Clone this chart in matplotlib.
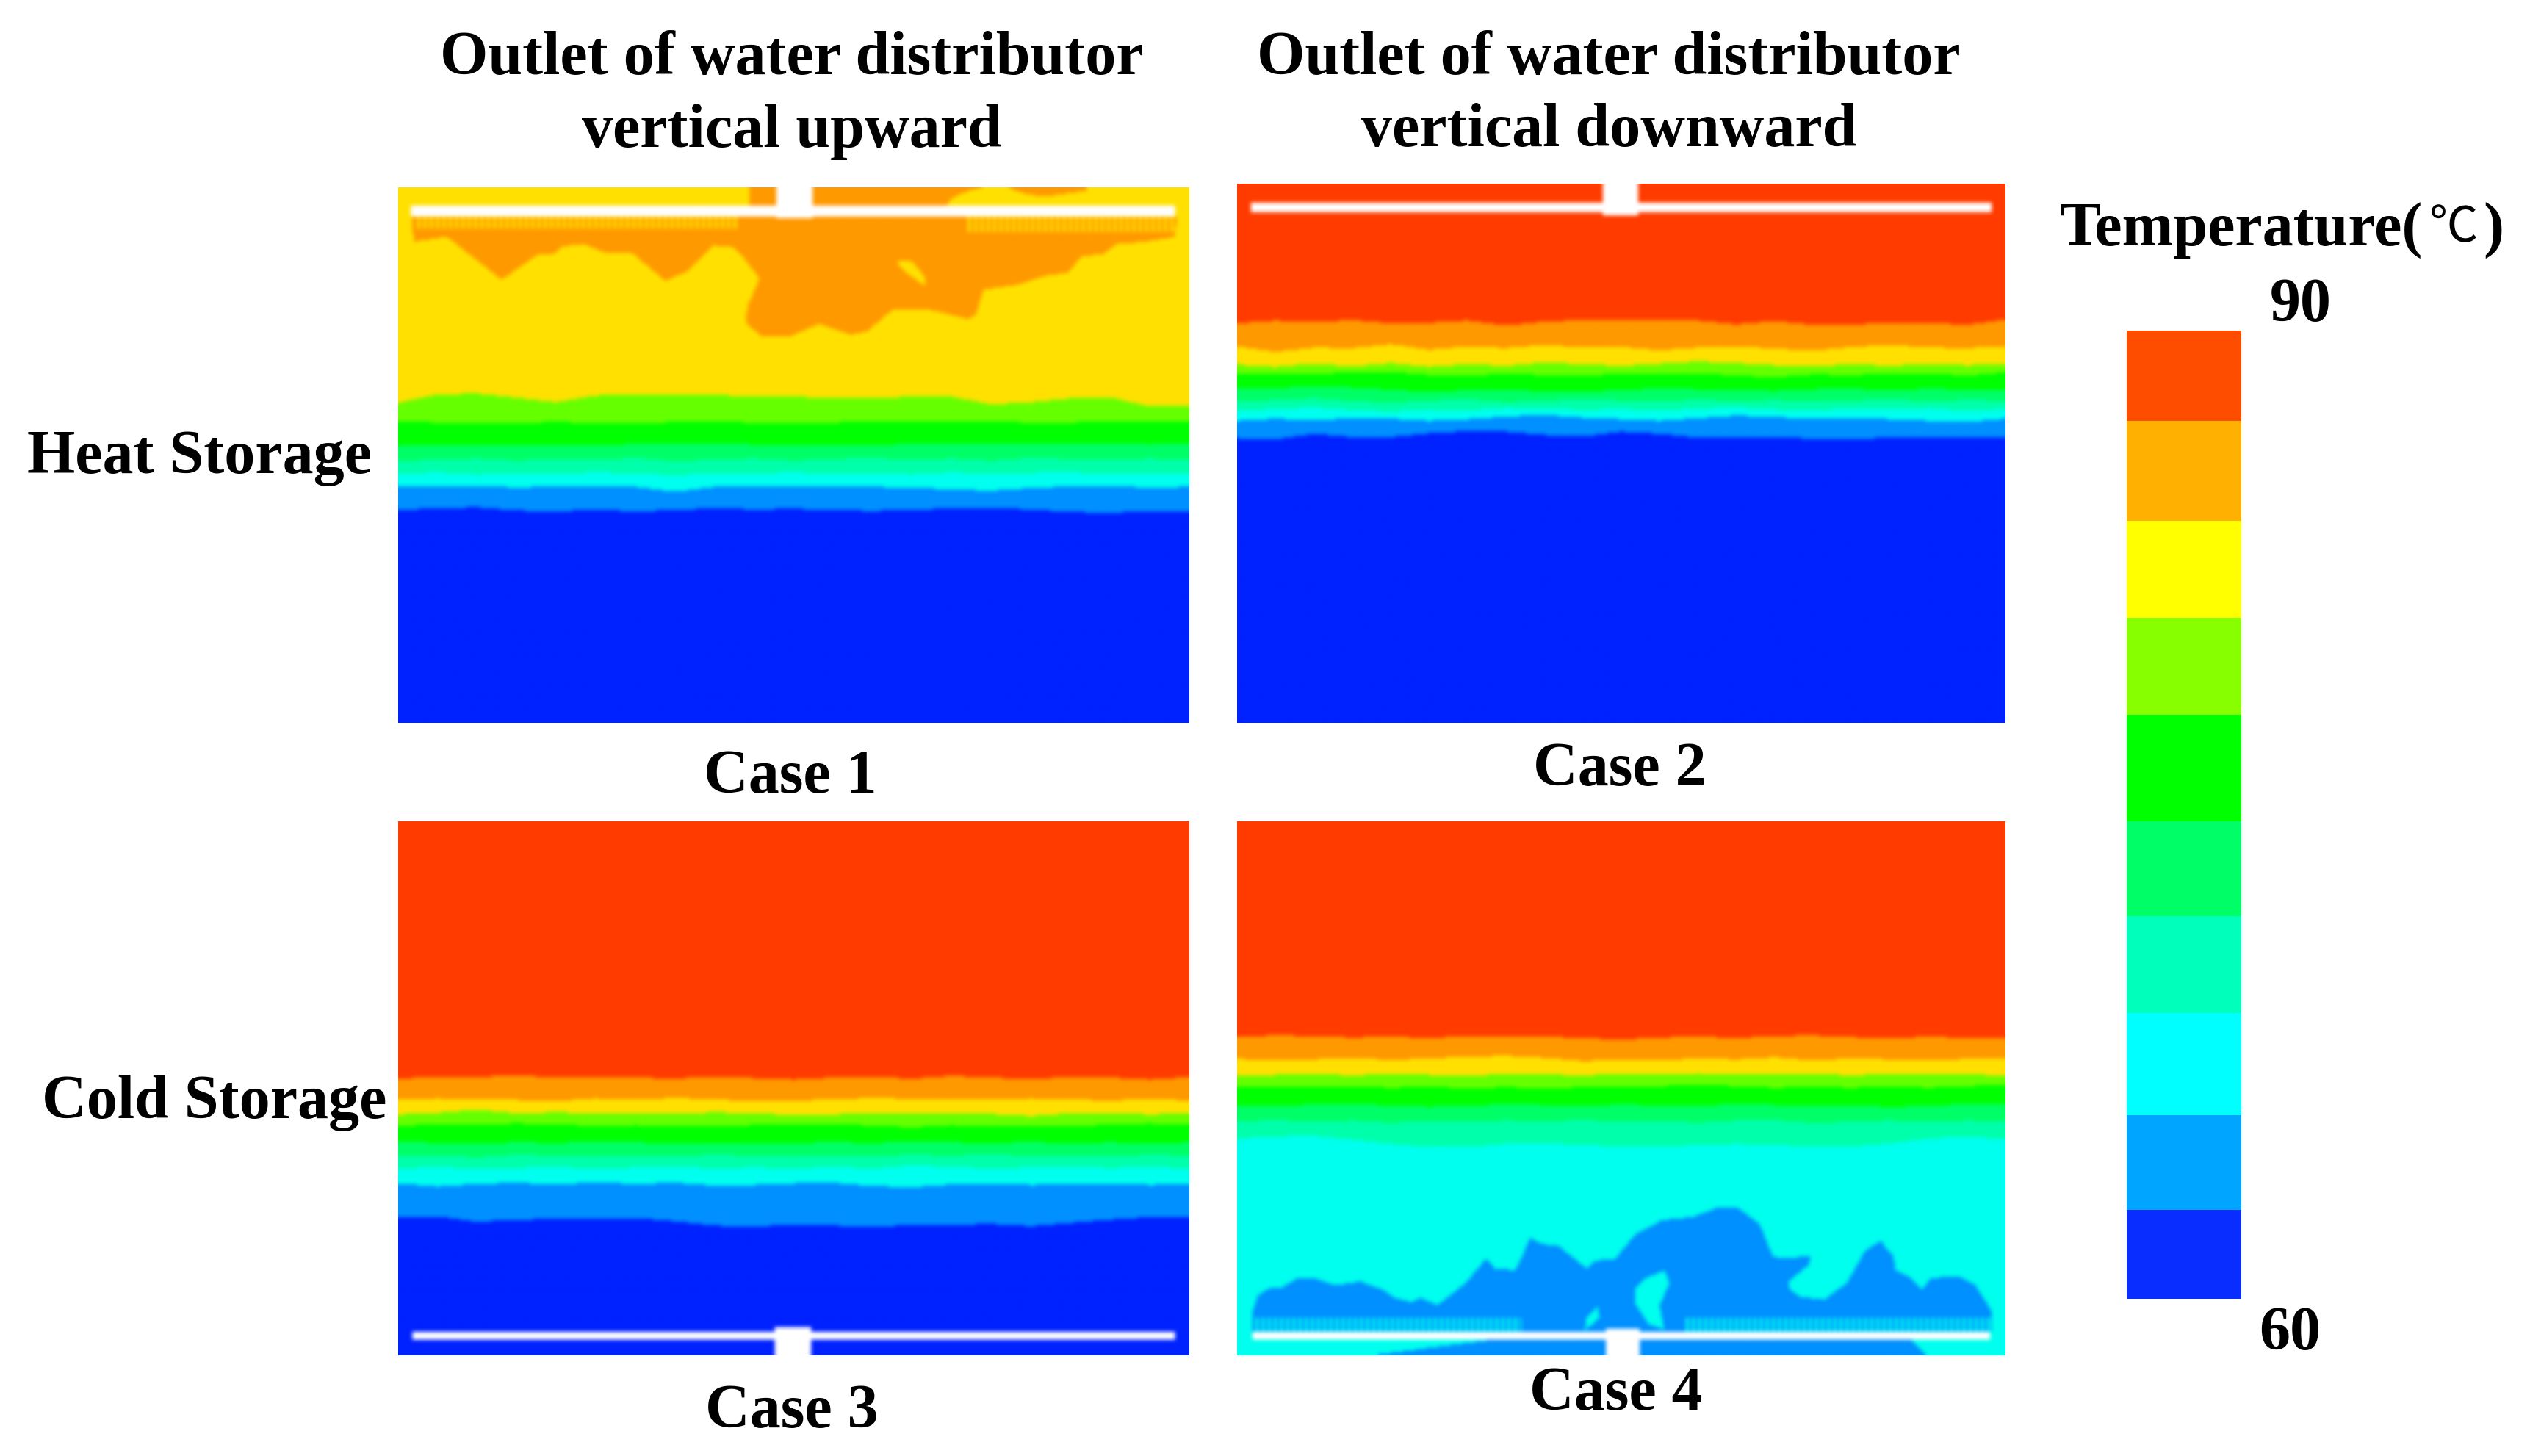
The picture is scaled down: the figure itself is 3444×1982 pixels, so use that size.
import numpy as np
import matplotlib
matplotlib.use('Agg')
import matplotlib.pyplot as plt
from matplotlib.path import Path
from matplotlib.colors import ListedColormap, BoundaryNorm

# stations across the tank, percent of the width
stations = [0, 5, 10, 15, 20, 25, 30, 35, 40, 45, 50, 55, 60, 65, 70, 75, 80, 85, 90, 95, 100]

# contour depths, percent of tank height from the top, one row per boundary
# order: red/orange, orange/yellow, yellow/lime, lime/green, green/spring,
#        spring/aqua, aqua/cyan, cyan/blue, blue/dark
case1_levels = [
    [0] * 21,
    [0] * 21,
    [40.3, 38.8, 38.6, 39.4, 40.2, 39.0, 38.7, 38.9, 38.9, 39.1, 39.2, 39.4, 39.4, 39.2, 39.2, 40.6, 40.2, 39.5, 39.3, 41.0, 40.8],
    [43.8, 44.0, 44.2, 44.1, 43.9, 44.1, 44.2, 43.9, 43.9, 44.0, 44.1, 44.0, 43.8, 43.7, 43.8, 43.9, 44.0, 44.0, 43.8, 43.7, 43.9],
    [48.4, 48.1, 48.2, 48.1, 48.3, 48.3, 48.0, 47.9, 48.0, 48.1, 48.2, 48.3, 48.2, 48.0, 47.8, 47.9, 47.8, 47.8, 47.9, 48.1, 47.9],
    [51.2, 50.9, 50.7, 51.1, 50.8, 51.0, 50.6, 51.2, 50.9, 50.7, 51.1, 50.8, 50.6, 51.0, 50.7, 51.1, 50.6, 50.8, 51.0, 50.7, 51.0],
    [53.6, 53.3, 53.7, 53.4, 53.6, 53.3, 53.5, 53.8, 53.4, 53.5, 53.3, 53.6, 53.4, 53.7, 53.3, 53.6, 53.4, 53.3, 53.6, 53.4, 53.5],
    [56.0, 56.0, 55.8, 56.1, 55.9, 55.8, 56.0, 56.9, 56.0, 55.8, 55.9, 55.8, 56.0, 56.1, 56.5, 56.7, 56.2, 55.9, 55.9, 56.1, 56.0],
    [60.3, 60.0, 59.8, 60.4, 60.6, 60.2, 60.6, 60.3, 60.0, 60.2, 60.1, 60.3, 60.5, 60.2, 60.1, 60.0, 60.2, 60.7, 60.8, 60.6, 60.5],
]
case2_levels = [
    [25.9, 25.4, 25.7, 25.3, 25.9, 25.8, 25.4, 26.3, 25.6, 25.3, 25.4, 25.2, 25.4, 26.1, 25.5, 26.2, 26.1, 25.9, 25.8, 26.2, 25.2],
    [30.2, 31.2, 30.4, 30.5, 29.8, 30.8, 30.2, 30.5, 29.9, 30.4, 30.3, 30.9, 30.4, 30.2, 30.6, 31.0, 30.3, 29.9, 30.4, 30.5, 30.2],
    [33.6, 34.0, 33.4, 33.9, 33.3, 34.0, 33.5, 33.8, 33.2, 33.5, 33.8, 33.4, 33.0, 33.3, 33.7, 33.9, 33.5, 33.8, 33.4, 33.7, 33.5],
    [35.2, 35.4, 35.2, 35.1, 34.9, 35.5, 35.6, 35.3, 35.5, 35.6, 35.3, 35.4, 35.2, 35.6, 35.9, 35.4, 35.5, 35.3, 35.2, 35.6, 35.0],
    [38.0, 37.9, 37.6, 37.8, 38.2, 38.6, 38.3, 38.2, 38.5, 38.6, 38.2, 38.0, 38.1, 38.3, 38.4, 38.1, 38.0, 38.3, 38.0, 38.2, 38.1],
    [40.4, 40.1, 39.8, 40.3, 40.6, 40.2, 40.0, 40.5, 40.3, 39.9, 40.2, 40.4, 40.0, 40.3, 40.1, 40.4, 40.2, 40.0, 40.3, 40.1, 40.2],
    [42.2, 41.8, 41.5, 42.0, 42.3, 41.9, 42.1, 41.6, 41.7, 42.0, 41.8, 42.2, 41.7, 41.5, 41.9, 42.1, 41.7, 41.9, 41.6, 42.2, 41.8],
    [44.0, 43.6, 43.9, 43.5, 43.6, 44.0, 43.7, 43.2, 42.9, 43.4, 43.7, 44.0, 43.5, 43.0, 43.3, 43.6, 43.4, 43.7, 44.0, 44.2, 43.6],
    [47.2, 47.4, 46.4, 47.0, 47.0, 46.3, 45.9, 46.0, 46.6, 46.9, 46.0, 46.4, 47.1, 47.0, 47.0, 47.3, 47.5, 47.0, 47.2, 47.0, 47.1],
]
case3_levels = [
    [48.2, 47.9, 47.9, 47.6, 48.0, 47.9, 48.0, 48.2, 47.8, 48.1, 48.4, 48.0, 47.9, 48.2, 47.7, 48.0, 48.3, 47.9, 48.0, 48.4, 47.9],
    [52.2, 51.9, 52.1, 52.2, 52.4, 51.9, 52.2, 51.8, 52.1, 52.4, 52.3, 52.1, 51.8, 52.0, 52.2, 52.2, 51.9, 52.1, 52.3, 52.0, 52.3],
    [54.9, 54.6, 54.0, 54.7, 54.5, 54.7, 54.6, 54.8, 54.5, 54.7, 55.0, 54.9, 54.6, 54.8, 54.6, 54.8, 55.2, 54.7, 54.6, 54.9, 54.7],
    [57.0, 56.8, 56.7, 56.6, 56.7, 57.1, 56.9, 57.2, 57.0, 56.9, 56.8, 56.7, 57.0, 57.3, 56.9, 57.2, 57.0, 57.1, 56.8, 56.6, 56.9],
    [60.0, 60.2, 60.3, 60.1, 60.2, 60.0, 60.1, 60.3, 60.2, 60.3, 60.2, 60.1, 60.2, 60.0, 60.1, 60.3, 60.0, 60.4, 60.1, 60.4, 60.1],
    [62.8, 62.5, 62.9, 62.4, 62.6, 62.8, 62.5, 62.7, 62.4, 62.6, 62.8, 62.5, 62.7, 62.4, 62.6, 62.3, 62.7, 62.5, 62.8, 62.4, 62.6],
    [65.0, 64.7, 65.1, 64.9, 64.7, 65.1, 64.8, 64.6, 65.0, 64.8, 65.0, 64.7, 65.0, 64.4, 64.7, 65.0, 64.8, 64.6, 64.9, 64.7, 65.0],
    [67.8, 68.4, 67.9, 67.7, 68.0, 67.6, 67.9, 67.7, 68.2, 68.1, 67.8, 67.7, 68.3, 68.5, 68.0, 67.9, 68.1, 68.0, 67.9, 68.1, 68.0],
    [74.2, 74.0, 75.0, 74.6, 74.5, 74.4, 74.3, 74.9, 75.7, 75.9, 75.5, 75.7, 75.9, 75.6, 75.5, 75.4, 75.8, 75.2, 74.6, 74.1, 74.0],
]
case4_levels = [
    [40.3, 40.1, 40.2, 40.5, 40.3, 40.6, 40.2, 40.4, 40.3, 40.6, 40.9, 40.5, 40.3, 40.6, 40.2, 40.1, 40.4, 40.7, 40.3, 40.6, 40.7],
    [44.5, 44.8, 44.6, 44.3, 44.7, 44.4, 44.1, 43.9, 44.3, 44.9, 44.7, 44.8, 44.4, 44.6, 44.2, 44.8, 44.4, 44.6, 44.8, 44.5, 44.3],
    [47.6, 47.5, 47.3, 47.6, 47.3, 47.5, 47.7, 47.3, 47.4, 47.6, 47.3, 47.5, 47.2, 47.4, 47.5, 47.3, 47.6, 47.3, 47.5, 47.4, 47.6],
    [49.6, 49.8, 49.7, 49.6, 49.9, 49.7, 50.0, 49.8, 50.0, 49.8, 49.7, 49.6, 49.4, 49.6, 49.9, 49.7, 49.9, 49.6, 49.9, 49.6, 49.4],
    [53.2, 53.3, 53.0, 52.9, 53.2, 53.4, 53.2, 53.0, 53.1, 53.3, 53.0, 53.2, 53.3, 52.9, 53.1, 53.3, 53.1, 53.5, 53.2, 53.0, 52.9],
    [56.2, 55.9, 56.3, 56.0, 56.4, 56.1, 56.3, 56.0, 56.2, 55.9, 56.3, 56.1, 56.4, 56.0, 55.9, 56.5, 56.2, 56.0, 56.3, 56.0, 56.2],
    [59.4, 59.0, 58.9, 59.6, 60.4, 61.0, 61.0, 60.4, 60.3, 60.6, 60.9, 60.8, 60.7, 60.4, 60.7, 60.8, 60.9, 60.3, 59.4, 59.0, 59.5],
    [200] * 21,
    [200] * 21,
]

# warm / cold plumes near the distributor, (x %, depth %)
case1_plume = [(1.7, 5.5), (2.0, 10.3), (6.0, 9.4), (7.0, 10.3), (13.1, 17.4), (17.7, 12.6), (19.4, 12.8),
               (20.8, 11.2), (23.4, 10.7), (26.1, 12.3), (29.5, 12.3), (33.8, 17.6), (36.5, 15.8), (39.9, 11.0),
               (42.2, 11.2), (43.5, 13.0), (45.7, 17.1), (44.2, 22.2), (43.9, 25.4), (45.9, 27.9), (49.6, 27.9),
               (53.2, 25.6), (57.3, 27.6), (59.3, 27.0), (62.6, 22.8), (67.6, 23.1), (72.0, 24.7), (73.0, 24.0),
               (74.0, 19.2), (78.4, 18.3), (81.7, 16.7), (84.7, 16.0), (86.4, 13.0), (89.1, 12.6), (90.8, 10.7),
               (94.4, 10.3), (98.1, 9.4), (98.5, 5.5)]
case1_top1 = [(44.5, 0), (74.3, 0), (72.3, 0.7), (70.0, 2.1), (69.3, 3.5), (44.5, 3.5)]
case1_top2 = [(77, 0), (87, 0), (87, 0.8), (82, 1.8), (79.5, 1.5), (78, 0.7)]
case1_hole = [(63.3, 13.7), (65.0, 14.0), (66.6, 16.9), (66.6, 18.5), (64.3, 16.2), (63.3, 14.8)]

case4_plume = [(2.0, 95.6), (2.0, 91.9), (2.7, 88.7), (4.4, 87.4), (5.7, 87.4), (7.7, 85.7), (10.0, 85.5), (12.7, 86.9),
               (16.1, 86.2), (19.1, 87.8), (20.4, 89.2), (22.8, 90.1), (23.8, 89.2), (26.1, 90.6), (29.8, 86.4),
               (32.4, 81.9), (33.5, 83.7), (36.2, 84.1), (38.2, 78.0), (39.5, 79.1), (41.9, 79.6), (43.9, 81.9),
               (45.5, 83.7), (46.6, 82.3), (49.2, 81.9), (51.9, 77.3), (55.3, 74.7), (59.3, 74.1), (62.3, 72.5),
               (65.0, 72.2), (68.0, 75.4), (69.7, 81.4), (71.0, 81.9), (74.7, 81.4), (74.3, 83.2), (71.7, 86.2),
               (72.0, 87.8), (73.3, 89.0), (76.4, 89.6), (79.4, 86.4), (81.7, 80.5), (83.7, 78.6), (85.4, 81.4),
               (85.7, 84.1), (87.4, 85.3), (89.1, 87.6), (90.4, 85.5), (94.1, 85.3), (96.1, 86.9), (98.1, 91.5),
               (98.1, 95.6)]
case4_hole1 = [(55.6, 84.1), (56.3, 86.4), (55.0, 90.6), (55.6, 95.1), (53.6, 94.2), (51.9, 90.6), (51.9, 87.4), (53.2, 85.5)]
case4_hole2 = [(46.9, 91.0), (47.2, 92.9), (45.2, 95.4), (45.5, 92.9)]
case4_wedge = [(17.7, 100), (32.5, 97.2), (87.7, 97.2), (89.8, 100)]

band_colors = ['#ff3c00', '#ff9900', '#ffe100', '#66ff00', '#00ff00',
               '#00ff66', '#00ffaa', '#00ffee', '#0090ff', '#0022ff', '#ffffff']
bar_levels = [60, 62.75, 65.7, 68.85, 71.85, 74.8, 78.1, 81.1, 84.1, 87.2, 90]
bar_colors = ['#0a2dff', '#00a5ff', '#00ffff', '#00ffbb', '#00ff66',
              '#00ff00', '#88ff00', '#ffff00', '#ffb000', '#ff4d00']

W, H = 3444, 1982
NX, NY = 500, 340
rgb = np.array([matplotlib.colors.to_rgb(c) for c in band_colors])
xs = (np.arange(NX) + 0.5) / NX * 100
ds = (np.arange(NY) + 0.5) / NY * 100
gx, gd = np.meshgrid(xs, ds)
pts = np.c_[gx.ravel(), gd.ravel()]
kernel = np.array([1, 2, 3, 2, 1]) / 9


def inside(poly):
    return Path(poly + [poly[0]]).contains_points(pts).reshape(gx.shape)


def bands(levels):
    idx = np.zeros(gx.shape, dtype=int)
    for k, row in enumerate(levels):
        idx[gd > np.interp(xs, stations, row)[None, :].repeat(NY, 0)] = k + 1
    return idx


def comb(idx, x0, x1, d0, d1, band):
    teeth = (gx > x0) & (gx < x1) & (gd > d0) & (gd < d1) & (np.arange(NX)[None, :].repeat(NY, 0) % 4 < 2)
    idx[teeth] = band


def distributor(idx, x0, x1, d0, d1, sx0, sx1, sd0, sd1):
    idx[(gx > x0) & (gx < x1) & (gd > d0) & (gd < d1)] = 10
    idx[(gx > sx0) & (gx < sx1) & (gd > sd0) & (gd < sd1)] = 10


def soften(img):
    # the source contours are an enlarged low resolution screenshot
    pad = np.pad(img, ((2, 2), (2, 2), (0, 0)), mode='edge')
    pad = np.apply_along_axis(lambda v: np.convolve(v, kernel, mode='same'), 0, pad)
    pad = np.apply_along_axis(lambda v: np.convolve(v, kernel, mode='same'), 1, pad)
    return np.clip(pad[2:-2, 2:-2], 0, 1)


def add_panel(idx, left, top, right, bottom):
    ax = fig.add_axes([left / W, 1 - bottom / H, (right - left) / W, (bottom - top) / H])
    ax.imshow(soften(rgb[idx]), extent=[0, 100, 100, 0], aspect='auto', interpolation='bilinear')
    ax.axis('off')
    return ax


fig = plt.figure(figsize=(W / 100, H / 100), dpi=100, facecolor='white')

c1 = bands(case1_levels)
c1[inside(case1_plume)] = 1
c1[inside(case1_top1)] = 1
c1[inside(case1_top2)] = 1
c1[inside(case1_hole)] = 2
comb(c1, 2, 43, 5, 8.0, 2)
comb(c1, 72, 98.5, 5, 8.5, 2)
distributor(c1, 1.7, 98.3, 3.4, 5.5, 47.8, 52.5, 0, 5.9)
add_panel(c1, 542, 255, 1619, 984)

c2 = bands(case2_levels)
distributor(c2, 1.8, 98.3, 3.4, 5.2, 47.6, 52.2, 0, 5.9)
add_panel(c2, 1684, 250, 2730, 984)

c3 = bands(case3_levels)
distributor(c3, 1.8, 98.3, 95.5, 97.2, 47.6, 52.2, 94.6, 100)
add_panel(c3, 542, 1118, 1619, 1845)

c4 = bands(case4_levels)
c4[inside(case4_plume)] = 8
c4[inside(case4_hole1)] = 7
c4[inside(case4_hole2)] = 7
c4[inside(case4_wedge)] = 8
comb(c4, 2, 37, 92.8, 95.6, 7)
comb(c4, 58, 98, 92.8, 95.6, 7)
distributor(c4, 2.0, 98.1, 95.5, 97.2, 47.9, 52.5, 95, 100)
add_panel(c4, 1684, 1118, 2730, 1845)

# colour scale on the right
cax = fig.add_axes([2895 / W, 1 - 1768 / H, 156 / W, 1318 / H])
cmap = ListedColormap(bar_colors)
norm = BoundaryNorm(bar_levels, cmap.N)
cax.pcolormesh([0, 1], bar_levels, np.array(bar_levels[:-1])[:, None] + 0.01, cmap=cmap, norm=norm)
cax.set_ylim(60, 90)
cax.axis('off')


def label(x, y, s, size=60.5, ha='center', weight='bold', family='Liberation Serif'):
    fig.text(x / W, 1 - y / H, s, fontsize=size, fontweight=weight, family=family, ha=ha, va='center', color='black')


label(1078, 80, 'Outlet of water distributor')
label(1078, 179, 'vertical upward')
label(2190, 80, 'Outlet of water distributor')
label(2190, 179, 'vertical downward')
label(37, 624, 'Heat Storage', ha='left')
label(57, 1501, 'Cold Storage', ha='left')
label(1076, 1058, 'Case 1')
label(2205, 1049, 'Case 2')
label(1078, 1923, 'Case 3')
label(2200, 1899, 'Case 4')
label(3298, 313, 'Temperature(', ha='right')
label(3340, 310, '℃', size=48, weight='normal', family='Noto Sans CJK SC')
label(3380, 313, ')', ha='left')
label(3132, 417, '90')
label(3117, 1816, '60')

fig.savefig('out.png', dpi=100, facecolor='white')
